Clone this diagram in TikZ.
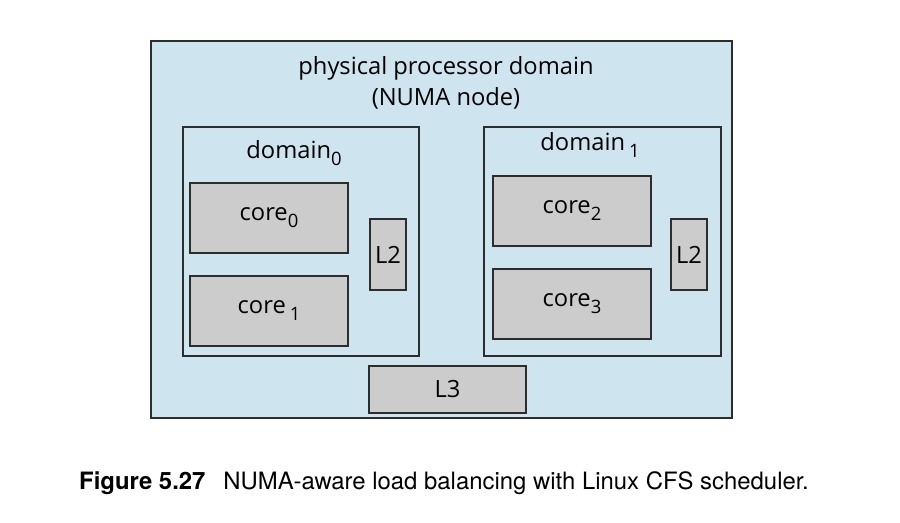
\documentclass[tikz,border=0pt]{standalone}
\usepackage{fontspec}
\setmainfont{Open Sans}
\newfontfamily\capfont{TeX Gyre Heros}
\usepackage{xcolor}
\definecolor{numablue}{RGB}{206, 228, 238}
\definecolor{cachegray}{RGB}{204, 204, 204}
\definecolor{edgegray}{RGB}{45, 45, 45}
\newcommand{\idx}[1]{\raisebox{-0.55ex}{\fontsize{10.5}{12}\selectfont #1}}
\tikzset{
  domainbox/.style={draw=edgegray, line width=0.8pt, fill=numablue, inner sep=0pt},
  unitbox/.style={draw=edgegray, line width=0.8pt, fill=cachegray, inner sep=0pt, font=\fontsize{13.5}{16}\selectfont}
}

\begin{document}
\begin{tikzpicture}[x=0.02cm, y=-0.02cm]
    \useasboundingbox (0,0) rectangle (900,522);

    % physical processor domain
    \node[domainbox, minimum width=11.62cm, minimum height=7.54cm] (numa) at (441.5,229.5) {};
    \node[align=center, font=\fontsize{13.5}{18}\selectfont] (numalabel) at (446,83) {physical processor domain\\(NUMA node)};

    % domain 0 - left
    \node[domainbox, minimum width=4.72cm, minimum height=4.58cm] (dom0) at (301,241.5) {};
    \node[font=\fontsize{13.5}{16}\selectfont] (dom0label) at (294,153) {domain\idx{0}};
    \node[unitbox, minimum width=3.16cm, minimum height=1.4cm] (core0) at (269,218) {core\idx{0}};
    \node[unitbox, minimum width=3.16cm, minimum height=1.4cm] (core1) at (269,311) {core\,\idx{1}};
    \node[unitbox, minimum width=0.72cm, minimum height=1.42cm] (l2a) at (388,254.5) {L2};

    % domain 1 - right
    \node[domainbox, minimum width=4.74cm, minimum height=4.58cm] (dom1) at (602.5,241.5) {};
    \node[font=\fontsize{13.5}{16}\selectfont] (dom1label) at (590,145) {domain\,\idx{1}};
    \node[unitbox, minimum width=3.16cm, minimum height=1.4cm] (core2) at (572,211) {core\idx{2}};
    \node[unitbox, minimum width=3.16cm, minimum height=1.4cm] (core3) at (572,304) {core\idx{3}};
    \node[unitbox, minimum width=0.72cm, minimum height=1.42cm] (l2b) at (689,254.5) {L2};

    % shared cache
    \node[unitbox, minimum width=3.14cm, minimum height=0.94cm] (l3) at (447.5,389.5) {L3};

    % caption
    \node[anchor=west, font=\capfont\fontsize{13.6}{16}\selectfont] (caption) at (73,483)
        {\textbf{Figure 5.27}\hspace{0.75em}NUMA-aware load balancing with Linux CFS scheduler.};
\end{tikzpicture}
\end{document}
